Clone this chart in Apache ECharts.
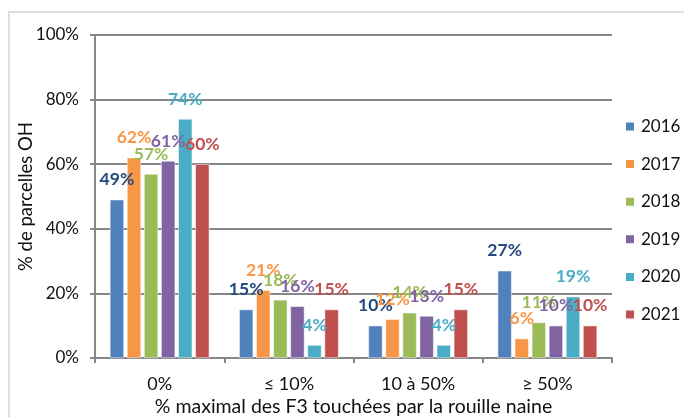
<!DOCTYPE html>
<html>
<head>
<meta charset="utf-8">
<script src="https://cdn.jsdelivr.net/npm/echarts@6/dist/echarts.min.js"></script>
<style>
  html, body { margin: 0; padding: 0; background: #fff; }
  #chart { width: 684px; height: 417px; }
</style>
</head>
<body>
<div id="chart"></div>
<script>
// Categories on the x axis: max share of F3 leaves hit by brown rust
const categories = ['0%', '≤ 10%', '10 à 50%', '≥ 50%'];

// Share of OH plots (%) per year
const years = ['2016', '2017', '2018', '2019', '2020', '2021'];
const v2016 = [49, 15, 10, 27];
const v2017 = [62, 21, 12, 6];
const v2018 = [57, 18, 14, 11];
const v2019 = [61, 16, 13, 10];
const v2020 = [74, 4, 4, 19];
const v2021 = [60, 15, 15, 10];

const yTicks = [0, 20, 40, 60, 80, 100];

const values = [v2016, v2017, v2018, v2019, v2020, v2021];
const barColors = ['#4F81BD', '#F79646', '#9BBB59', '#8064A2', '#4BACC6', '#C0504D'];
const labelColors = ['#254A7E', '#F79646', '#9BBB59', '#8064A2', '#4BACC6', '#C0504D'];

const FONT = 'Lato, "Open Sans", sans-serif';
const GRID_COLOR = '#868686';
const TEXT_COLOR = '#111';

const chart = echarts.init(document.getElementById('chart'), null, { renderer: 'canvas' });

const series = years.map((y, i) => ({
  name: y,
  type: 'bar',
  data: values[i],
  barWidth: 14,
  barGap: '22%',
  itemStyle: { color: barColors[i], borderColor: '#fff', borderWidth: 0.5 },
  label: {
    show: true,
    position: 'top',
    distance: 11,
    formatter: p => p.value + '%',
    color: labelColors[i],
    fontFamily: FONT,
    fontWeight: 'bold',
    fontSize: 17.5
  }
}));

chart.setOption({
  animation: false,
  backgroundColor: '#fff',
  grid: { left: 95, right: 72, top: 35, bottom: 59, containLabel: false, outerBoundsMode: 'none' },
  graphic: [{
    type: 'rect',
    shape: { x: 9, y: 12, width: 700, height: 420 },
    style: { fill: 'none', stroke: '#dedede', lineWidth: 2 },
    silent: true
  }],
  legend: {
    orient: 'vertical',
    left: 624,
    top: 118,
    padding: 0,
    itemWidth: 10,
    itemHeight: 10,
    itemGap: 20.6,
    icon: 'rect',
    textStyle: { fontFamily: FONT, fontSize: 17, lineHeight: 16, color: TEXT_COLOR, padding: [0, 0, 0, 1] },
    data: years
  },
  xAxis: {
    type: 'category',
    data: categories,
    name: '% maximal des F3 touchées par la rouille naine',
    nameLocation: 'middle',
    nameGap: 39,
    nameMoveOverlap: false,
    nameTextStyle: { fontFamily: FONT, fontSize: 19.5, color: TEXT_COLOR },
    axisLine: { show: true, lineStyle: { color: GRID_COLOR, width: 2 } },
    axisTick: { show: true, alignWithLabel: false, length: 5, lineStyle: { color: GRID_COLOR, width: 2 } },
    axisLabel: { fontFamily: FONT, fontSize: 18, color: TEXT_COLOR, margin: 17 }
  },
  yAxis: {
    type: 'value',
    min: yTicks[0],
    max: yTicks[yTicks.length - 1],
    interval: 20,
    name: '% de parcelles OH',
    nameLocation: 'middle',
    nameGap: 59,
    nameMoveOverlap: false,
    nameTextStyle: { fontFamily: FONT, fontSize: 18.5, color: TEXT_COLOR },
    axisLine: { show: true, lineStyle: { color: GRID_COLOR, width: 2 } },
    axisTick: { show: true, length: 5, lineStyle: { color: GRID_COLOR, width: 2 } },
    axisLabel: { fontFamily: FONT, fontSize: 17, color: TEXT_COLOR, margin: 16, formatter: v => v + '%' },
    splitLine: { show: true, lineStyle: { color: GRID_COLOR, width: 2 } }
  },
  series: series
});
</script>
</body>
</html>
